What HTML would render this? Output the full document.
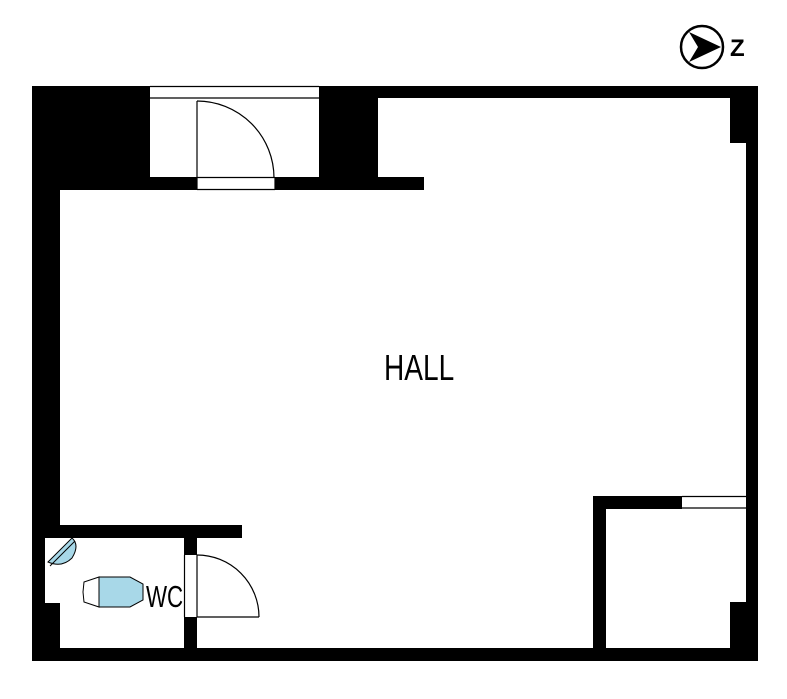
<!DOCTYPE html>
<html><head><style>
html,body{margin:0;padding:0;background:#fff;width:787px;height:699px;overflow:hidden}
</style></head><body>
<svg width="787" height="699" xmlns="http://www.w3.org/2000/svg">
<g fill="#000">
<rect x="32" y="86" width="28" height="575"/>
<rect x="32" y="86" width="118" height="104"/>
<rect x="319" y="86" width="59" height="104"/>
<rect x="378" y="86" width="380" height="12"/>
<rect x="746" y="86" width="12" height="575"/>
<rect x="730" y="97" width="16" height="46"/>
<rect x="150" y="177" width="274" height="13"/>
<rect x="32" y="648" width="726" height="13"/>
<rect x="32" y="525" width="210" height="13"/>
<rect x="184" y="537" width="13" height="111"/>
<rect x="593" y="496" width="13" height="152"/>
<rect x="593" y="496" width="89" height="13"/>
<rect x="730" y="602" width="16" height="46"/>
</g>
<g fill="#fff">
<rect x="150" y="86" width="169" height="91"/>
<rect x="197" y="177" width="78" height="13"/>
<rect x="45" y="538" width="15" height="65"/>
<rect x="184" y="555" width="13" height="62"/>
<rect x="682" y="496" width="64" height="13"/>
</g>
<g stroke="#000" fill="none" stroke-width="1.2">
<line x1="150" y1="86.5" x2="319" y2="86.5"/>
<line x1="150" y1="98" x2="319" y2="98"/>
<line x1="197" y1="101" x2="197" y2="190"/>
<line x1="275" y1="177" x2="275" y2="190"/>
<line x1="197" y1="177.5" x2="275" y2="177.5"/>
<line x1="197" y1="189.5" x2="275" y2="189.5"/>
<path d="M197 101 A77 77 0 0 1 274 178"/>
<line x1="184.5" y1="555" x2="184.5" y2="617"/>
<line x1="197" y1="555" x2="197" y2="617"/>
<line x1="197" y1="617" x2="259" y2="617"/>
<path d="M197 555 A62 62 0 0 1 259 617"/>
<line x1="682" y1="496.5" x2="746" y2="496.5"/>
<line x1="682" y1="508" x2="746" y2="508"/>
</g>
<path d="M99 577 L84 582 L83 592 L84 602 L99 607 Z" fill="#fff" stroke="#000" stroke-width="1"/>
<path d="M99 577 L130 577 L143 584 L143 600 L130 607 L99 607 Z" fill="#a8d8e8" stroke="#000" stroke-width="1"/>
<path d="M48 562 L72 538 Q80 545 72 558 Q62 568 48 562 Z" fill="#a8d8e8" stroke="#000" stroke-width="1"/>
<line x1="50" y1="566" x2="75" y2="541" stroke="#000" stroke-width="1"/>
<text x="146" y="607" font-family="'Liberation Sans Narrow','Liberation Sans',sans-serif" font-size="31" transform="translate(146 0) scale(0.72 1) translate(-146 0)">WC</text>
<text x="384" y="380" font-family="'Liberation Sans Narrow','Liberation Sans',sans-serif" font-size="36" transform="translate(384 0) scale(0.78 1) translate(-384 0)">HALL</text>
<circle cx="702" cy="47" r="21" fill="#fff" stroke="#000" stroke-width="2.5"/>
<path d="M689 32 L721 47 L689 62 L698 47 Z" fill="#000"/>
<text x="730" y="56" font-family="'Liberation Sans',sans-serif" font-weight="bold" font-size="24">Z</text>
</svg>
</body></html>
